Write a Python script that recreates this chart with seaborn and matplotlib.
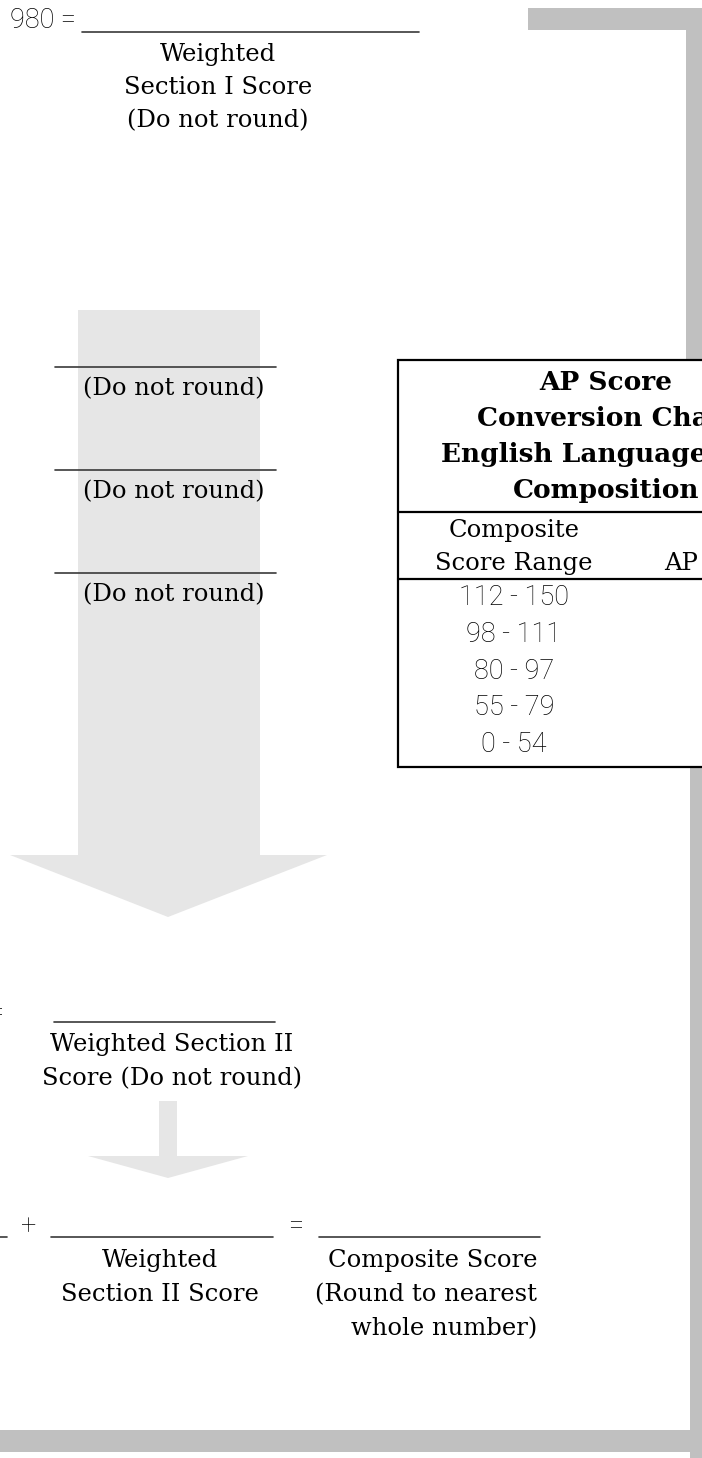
import matplotlib
matplotlib.use("Agg")
import matplotlib.pyplot as plt
from matplotlib.patches import Rectangle, Polygon
from matplotlib import font_manager
import seaborn as sns

# Chart content
SECTION1_LABEL = ["Weighted", "Section I Score", "(Do not round)"]
BLANK_NOTE = "(Do not round)"
SECTION2_LABEL = ["Weighted Section II", "Score (Do not round)"]
SUM_LEFT_LABEL = ["Weighted", "Section II Score"]
SUM_RIGHT_LABEL = ["Composite Score", "(Round to nearest", "whole number)"]
TITLE_LINES = ["AP Score", "Conversion Chart", "English Language and", "Composition"]
HEADER_RANGE = ["Composite", "Score Range"]
HEADER_AP = "AP Score"
SCORE_RANGES = ["112 - 150", "98 - 111", "80 - 97", "55 - 79", "0 - 54"]
AP_SCORES = ["5", "4", "3", "2", "1"]

FRAME_GRAY = "#c0c0c0"
ARROW_GRAY = "#e6e6e6"
RULE = "#3a3a3a"


def main():
    sns.set_theme(style="white")
    plt.rcParams["font.family"] = ["DejaVu Serif"]
    plt.rcParams["text.color"] = "black"

    serif = font_manager.FontProperties(family="DejaVu Serif", size=17.5)
    bold = font_manager.FontProperties(family="DejaVu Serif", weight="bold", size=19)
    sans = font_manager.FontProperties(family=["Roboto", "DejaVu Sans"], weight="light", size=19.5)

    fig = plt.figure(figsize=(7.02, 14.58), dpi=100)
    ax = fig.add_axes([0, 0, 1, 1])
    ax.set_xlim(0, 702)
    ax.set_ylim(1458, 0)
    ax.axis("off")

    # grey frame pieces
    ax.add_patch(Rectangle((528, 8), 180, 22, color=FRAME_GRAY, lw=0, zorder=1))
    ax.add_patch(Rectangle((686, 8), 20, 360, color=FRAME_GRAY, lw=0, zorder=1))
    ax.add_patch(Rectangle((690, 760), 20, 700, color=FRAME_GRAY, lw=0, zorder=1))
    ax.add_patch(Rectangle((-5, 1430), 695, 22, color=FRAME_GRAY, lw=0, zorder=1))

    # big arrow and small arrow
    ax.add_patch(Polygon([(78, 310), (260, 310), (260, 855), (327, 855), (168, 917),
                          (10, 855), (78, 855)], closed=True, color=ARROW_GRAY, lw=0, zorder=1))
    ax.add_patch(Polygon([(159, 1101), (177, 1101), (177, 1156), (248, 1156), (168, 1178),
                          (88, 1156), (159, 1156)], closed=True, color=ARROW_GRAY, lw=0, zorder=1))

    # top step
    ax.text(76, 28, "980 =", fontproperties=sans, ha="right", va="baseline", color="black")
    ax.plot([82, 419], [32, 32], color=RULE, lw=1.2)
    for i, s in enumerate(SECTION1_LABEL):
        ax.text(218, 61 + 33 * i, s, fontproperties=serif, ha="center", va="baseline")

    # three blanks on the arrow
    for y in [367, 470, 573]:
        ax.plot([55, 276], [y, y], color=RULE, lw=1.2, zorder=2)
        ax.text(174, y + 28, BLANK_NOTE, fontproperties=serif, ha="center", va="baseline", zorder=2)

    # section II step
    ax.text(3, 1021, "=", fontproperties=sans, ha="right", va="baseline", color="black")
    ax.plot([54, 275], [1022, 1022], color=RULE, lw=1.2)
    for i, s in enumerate(SECTION2_LABEL):
        ax.text(172, 1051 + 34 * i, s, fontproperties=serif, ha="center", va="baseline")

    # composite sum
    ax.plot([-5, 7], [1237, 1237], color=RULE, lw=1.2)
    ax.text(29, 1234, "+", fontproperties=sans, ha="center", va="baseline", color="black")
    ax.plot([51, 273], [1237, 1237], color=RULE, lw=1.2)
    ax.text(296, 1234, "=", fontproperties=sans, ha="center", va="baseline", color="black")
    ax.plot([319, 540], [1237, 1237], color=RULE, lw=1.2)
    for i, s in enumerate(SUM_LEFT_LABEL):
        ax.text(160, 1267 + 34 * i, s, fontproperties=serif, ha="center", va="baseline")
    for i, s in enumerate(SUM_RIGHT_LABEL):
        ax.text(537, 1267 + 34 * i, s, fontproperties=serif, ha="right", va="baseline")

    # conversion chart box
    bx0, bx1 = 398, 830
    ax.add_patch(Rectangle((bx0, 360), bx1 - bx0, 407, facecolor="white",
                           edgecolor="black", lw=1.6, zorder=3))
    for y in [512, 579]:
        ax.plot([bx0, bx1], [y, y], color="black", lw=1.6, zorder=4)
    for i, s in enumerate(TITLE_LINES):
        ax.text(606, 390 + 36 * i, s, fontproperties=bold, ha="center", va="baseline", zorder=4)
    for i, s in enumerate(HEADER_RANGE):
        ax.text(514, 537 + 33 * i, s, fontproperties=serif, ha="center", va="baseline", zorder=4)
    ax.text(720, 570, HEADER_AP, fontproperties=serif, ha="center", va="baseline", zorder=4)
    for i, (r, a) in enumerate(zip(SCORE_RANGES, AP_SCORES)):
        ax.text(514, 605 + 36.8 * i, r, fontproperties=sans, ha="center", va="baseline",
                color="black", zorder=4)
        ax.text(720, 605 + 36.8 * i, a, fontproperties=sans, ha="center", va="baseline",
                color="black", zorder=4)

    fig.savefig("out.png", dpi=100)
    plt.close(fig)


if __name__ == "__main__":
    main()
